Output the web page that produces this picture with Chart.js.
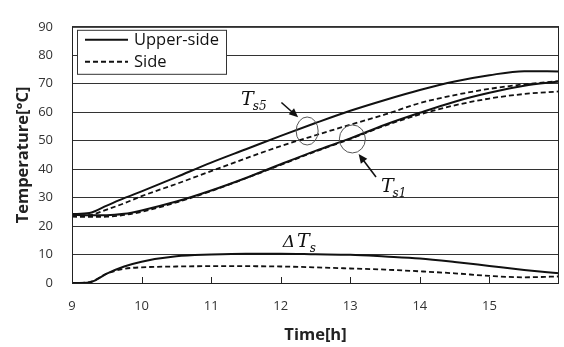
<!DOCTYPE html>
<html>
<head>
<meta charset="utf-8">
<script src="https://cdn.jsdelivr.net/npm/chart.js@4/dist/chart.umd.min.js"></script>
<style>
  body { margin: 0; background: #fff; }
  #wrap { width: 564px; height: 347px; position: relative; }
</style>
</head>
<body>
<div id="wrap"><canvas id="tempChart"></canvas></div>
<script>
// time axis (hours) shared by all curves
const times = [9, 9.25, 9.5, 9.75, 10, 10.5, 11, 11.5, 12, 12.5, 13, 13.5, 14, 14.5, 15, 15.5, 16];

// Ts5 (upper surface position 5)
const ts5Upper = [24.2, 24.6, 27.2, 29.8, 32.2, 37.2, 42.3, 47.0, 51.7, 56.2, 60.5, 64.3, 67.8, 70.8, 73.0, 74.4, 74.3];
const ts5Side  = [23.5, 23.8, 25.8, 28.0, 30.5, 34.8, 39.3, 43.8, 48.1, 51.9, 55.6, 59.2, 63.2, 66.0, 68.2, 69.8, 70.9];
// Ts1
const ts1Upper = [24.0, 23.8, 23.8, 24.3, 25.5, 28.6, 32.5, 36.9, 41.7, 46.4, 50.8, 55.6, 59.8, 63.7, 66.8, 69.3, 70.8];
const ts1Side  = [23.3, 23.2, 23.3, 23.9, 25.0, 28.3, 32.3, 36.8, 41.5, 46.2, 50.6, 55.3, 59.2, 62.4, 64.8, 66.4, 67.3];
// difference dTs
const dUpper = [0, 0.2, 3.3, 5.8, 7.5, 9.4, 10.0, 10.3, 10.3, 10.1, 9.9, 9.3, 8.6, 7.4, 6.0, 4.6, 3.4];
const dSide  = [0, 0.3, 3.3, 5.0, 5.5, 5.8, 5.9, 5.9, 5.8, 5.5, 5.1, 4.7, 4.1, 3.4, 2.5, 2.0, 2.3];

const yTicks = [0, 10, 20, 30, 40, 50, 60, 70, 80, 90];
const xTicks = [9, 10, 11, 12, 13, 14, 15];
const legendLabels = ["Upper-side", "Side"];

const toPts = arr => arr.map((v, i) => ({ x: times[i], y: v }));

function solid(data) {
    return { data: toPts(data), borderColor: "#111", borderWidth: 2, pointRadius: 0, cubicInterpolationMode: "monotone" };
}
function dashed(data) {
    return { data: toPts(data), borderColor: "#111", borderWidth: 1.8, borderDash: [5, 3], pointRadius: 0, cubicInterpolationMode: "monotone" };
}

// frame, inward x ticks, legend box and the labels on the curves
const decorPlugin = {
    id: "decor",
    afterDatasetsDraw(chart) {
        const { ctx, chartArea: a, scales: { x, y } } = chart;
        ctx.save();
        // frame
        ctx.strokeStyle = "#222";
        ctx.lineWidth = 1;
        ctx.strokeRect(a.left + 0.5, a.top + 0.5, a.right - a.left - 1, a.bottom - a.top);
        // inward ticks on the time axis
        xTicks.slice(1).forEach(t => {
            const px = Math.round(x.getPixelForValue(t)) + 0.5;
            ctx.beginPath();
            ctx.moveTo(px, a.bottom);
            ctx.lineTo(px, a.bottom - 6);
            ctx.stroke();
        });

        // circles
        ctx.strokeStyle = "#555";
        ctx.lineWidth = 1;
        [[12.38, 53.4, 11, 14], [13.03, 50.6, 13, 14]].forEach(([t, v, rx, ry]) => {
            ctx.beginPath();
            ctx.ellipse(x.getPixelForValue(t), y.getPixelForValue(v), rx, ry, 0, 0, Math.PI * 2);
            ctx.stroke();
        });

        // arrows
        function arrow(t0, v0, t1, v1) {
            const x0 = x.getPixelForValue(t0), y0 = y.getPixelForValue(v0);
            const x1 = x.getPixelForValue(t1), y1 = y.getPixelForValue(v1);
            const ang = Math.atan2(y1 - y0, x1 - x0);
            ctx.strokeStyle = "#111";
            ctx.fillStyle = "#111";
            ctx.lineWidth = 1.6;
            ctx.beginPath();
            ctx.moveTo(x0, y0);
            ctx.lineTo(x1 - 5 * Math.cos(ang), y1 - 5 * Math.sin(ang));
            ctx.stroke();
            ctx.beginPath();
            ctx.moveTo(x1, y1);
            ctx.lineTo(x1 - 9 * Math.cos(ang) + 4 * Math.sin(ang), y1 - 9 * Math.sin(ang) - 4 * Math.cos(ang));
            ctx.lineTo(x1 - 9 * Math.cos(ang) - 4 * Math.sin(ang), y1 - 9 * Math.sin(ang) + 4 * Math.cos(ang));
            ctx.closePath();
            ctx.fill();
        }
        arrow(12.01, 63.4, 12.25, 58.2);
        arrow(13.37, 37.2, 13.12, 45.3);

        // math labels
        function mathLabel(t, v, parts) {
            let px = x.getPixelForValue(t);
            const py = y.getPixelForValue(v);
            ctx.fillStyle = "#111";
            ctx.textBaseline = "alphabetic";
            ctx.textAlign = "left";
            parts.forEach(([txt, size, dy, gap]) => {
                ctx.font = "italic " + size + "px 'DejaVu Serif'";
                ctx.fillText(txt, px, py + dy);
                px += ctx.measureText(txt).width + (gap || 0);
            });
        }
        mathLabel(11.43, 62.6, [["T", 19, 0, -1], ["s5", 12, 5]]);
        mathLabel(13.44, 31.8, [["T", 19, 0, -1], ["s1", 12, 5]]);
        mathLabel(12.03, 12.6, [["\u0394", 17, 0, 2], ["T", 19, 0, 0], ["s", 12, 5]]);

        // legend box
        const lx = a.left + 5, ly = a.top + 3, lw = 149, lh = 44;
        ctx.fillStyle = "#fff";
        ctx.fillRect(lx, ly, lw, lh);
        ctx.strokeStyle = "#333";
        ctx.lineWidth = 1;
        ctx.strokeRect(lx + 0.5, ly + 0.5, lw, lh);
        ctx.font = "16.5px 'Open Sans'";
        ctx.textBaseline = "middle";
        legendLabels.forEach((lab, i) => {
            const yy = ly + 10 + i * 22;
            ctx.strokeStyle = "#111";
            ctx.lineWidth = 2;
            ctx.setLineDash(i === 0 ? [] : [5, 3]);
            ctx.beginPath();
            ctx.moveTo(lx + 8, yy);
            ctx.lineTo(lx + 51, yy);
            ctx.stroke();
            ctx.setLineDash([]);
            ctx.fillStyle = "#111";
            ctx.fillText(lab, lx + 57, yy);
        });
        ctx.restore();
    }
};

const ctx = document.getElementById("tempChart").getContext("2d");
new Chart(ctx, {
    type: "line",
    data: {
        datasets: [
            solid(ts5Upper), dashed(ts5Side),
            solid(ts1Upper), dashed(ts1Side),
            solid(dUpper), dashed(dSide),
        ],
    },
    options: {
        responsive: true,
        maintainAspectRatio: false,
        animation: false,
        layout: { padding: { left: 0, top: 14, right: 5, bottom: 0 } },
        plugins: {
            legend: { display: false },
            tooltip: { enabled: false },
        },
        scales: {
            x: {
                type: "linear",
                min: 9,
                max: 16,
                afterFit(scale) { scale.height = 64; },
                afterBuildTicks(scale) { scale.ticks = xTicks.map(v => ({ value: v })); },
                grid: { display: false, drawTicks: false },
                border: { display: false },
                ticks: { padding: 15, color: "#333", font: { family: "'Open Sans'", size: 13 } },
                title: {
                    display: true,
                    text: "Time[h]",
                    color: "#222",
                    font: { family: "'Open Sans'", size: 16.5, weight: "bold" },
                    padding: { top: 0, bottom: 2 },
                },
            },
            y: {
                min: 0,
                max: 90,
                afterFit(scale) { scale.width = 72; },
                afterBuildTicks(scale) { scale.ticks = yTicks.map(v => ({ value: v })); },
                grid: { color: "#333", lineWidth: 1, drawTicks: false },
                border: { display: false },
                ticks: { padding: 19, color: "#333", font: { family: "'Open Sans'", size: 13 } },
                title: {
                    display: true,
                    text: "Temperature[°C]",
                    color: "#222",
                    font: { family: "'Open Sans'", size: 16.5, weight: "bold" },
                    padding: { top: 13, bottom: 0 },
                },
            },
        },
    },
    plugins: [decorPlugin],
});
</script>
</body>
</html>
